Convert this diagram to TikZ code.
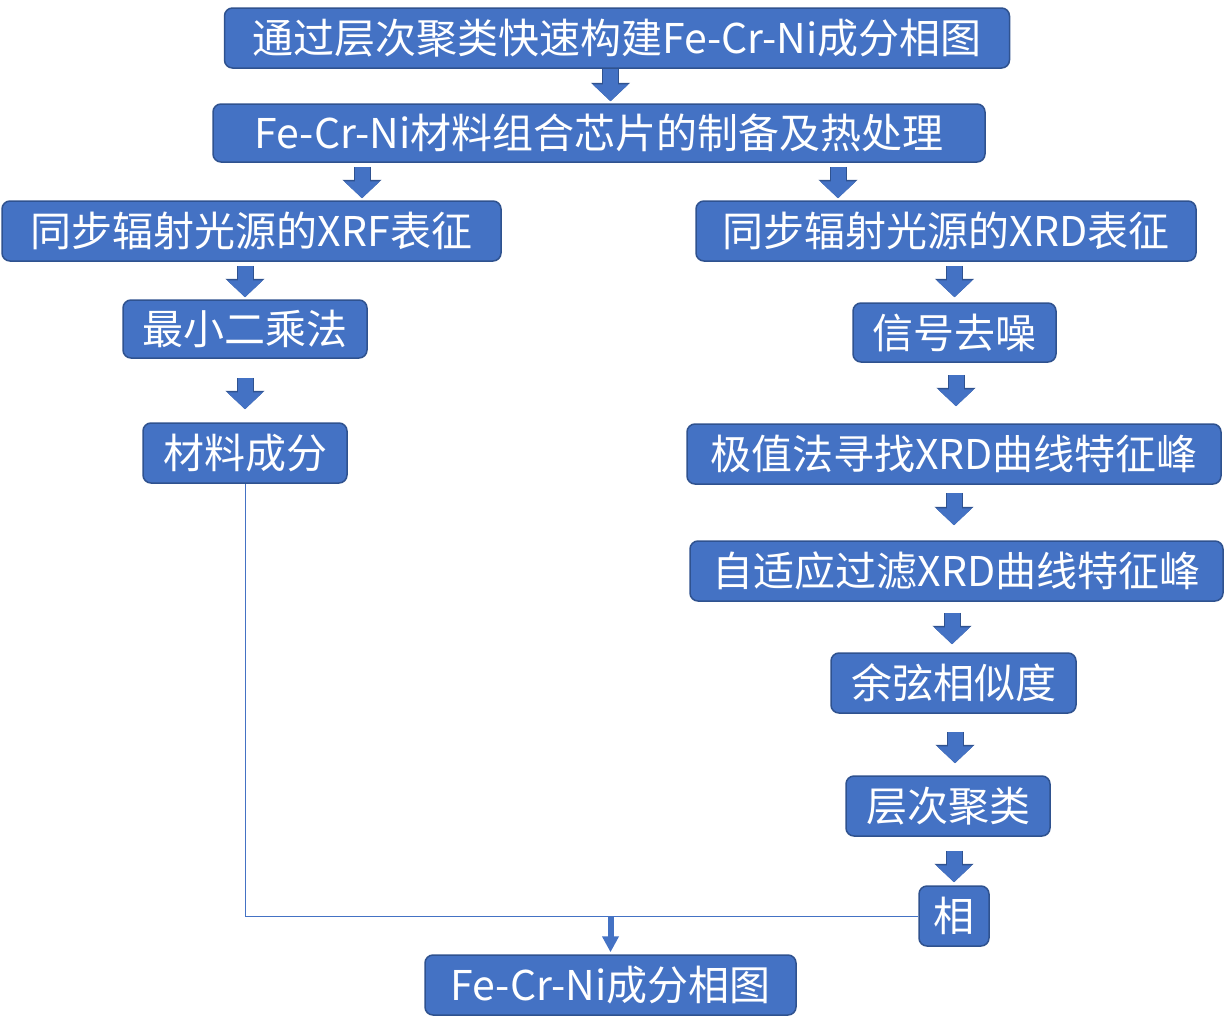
\documentclass[tikz,border=0pt]{standalone}
\usepackage{fontspec}
\usepackage{tikz}
\usetikzlibrary{arrows.meta,calc}
\newfontfamily\cjk{Noto Sans CJK SC}
\definecolor{boxblue}{HTML}{4472C4}
\definecolor{boxline}{HTML}{2F528F}
\tikzset{
  stepbox/.style={draw=boxline, line width=1.5pt, fill=boxblue, rounded corners=8pt, text=white,
    font=\cjk\fontsize{41}{49}\selectfont, inner sep=0pt, minimum height=60pt},
  blk/.style={draw=boxblue, line width=15pt, -{Triangle[width=35pt,length=17pt]},
    preaction={draw=boxline, line width=17pt, -{Triangle[width=38pt,length=18.5pt]}}},
  joinline/.style={draw=boxblue, line width=1pt},
  joinarrow/.style={draw=boxblue, line width=6pt, -{Triangle[width=16pt,length=16pt]}}
}
\begin{document}
\begin{tikzpicture}[x=1pt,y=-1pt]
\useasboundingbox (0,0) rectangle (1229,1036);
\node[stepbox, minimum width=785pt] (goal) at (617,38) {通过层次聚类快速构建Fe-Cr-Ni成分相图};
\node[stepbox, minimum width=772pt, minimum height=58pt] (chip) at (599,133) {Fe-Cr-Ni材料组合芯片的制备及热处理};
\node[stepbox, minimum width=499pt] (xrf) at (251.5,231) {同步辐射光源的XRF表征};
\node[stepbox, minimum width=500pt] (xrd) at (946,231) {同步辐射光源的XRD表征};
\node[stepbox, minimum width=244pt, minimum height=58pt] (lsq) at (245,329) {最小二乘法};
\node[stepbox, minimum width=204pt] (mat) at (245,453) {材料成分};
\node[stepbox, minimum width=203pt, minimum height=59pt] (den) at (954.5,332.5) {信号去噪};
\node[stepbox, minimum width=534pt] (peak) at (954,454) {极值法寻找XRD曲线特征峰};
\node[stepbox, minimum width=533pt] (ada) at (956.5,571) {自适应过滤XRD曲线特征峰};
\node[stepbox, minimum width=245pt] (cos) at (953.5,683) {余弦相似度};
\node[stepbox, minimum width=204pt] (hc) at (948,806) {层次聚类};
\node[stepbox, minimum width=70pt] (phase) at (954,916) {相};
\node[stepbox, minimum width=371pt] (diagram) at (610.5,985) {Fe-Cr-Ni成分相图};
% block arrows
\foreach \a/\b/\dx/\s/\e in {goal/chip/11.5/0/2, chip/xrf/110.5/4/2, chip/xrd/-108/4/2,
    xrf/lsq/0/4/2, lsq/mat/0/19/13, xrd/den/0/4/5, den/peak/2/12/17, peak/ada/-2.5/8/15,
    ada/cos/-1.5/11/8, cos/hc/7/18/12, hc/phase/0/14/3}
  \draw[blk, shorten <=\s pt, shorten >=\e pt] ($(\b.north |- \a.south)+(\dx,0)$) -- ($(\b.north)+(\dx,0)$);
% merge
\coordinate (join) at (diagram.north |- phase.west);
\draw[joinline] (mat.south) |- (phase.west);
\draw[joinarrow, shorten >=2pt] (join) -- (diagram.north);
\end{tikzpicture}
\end{document}
